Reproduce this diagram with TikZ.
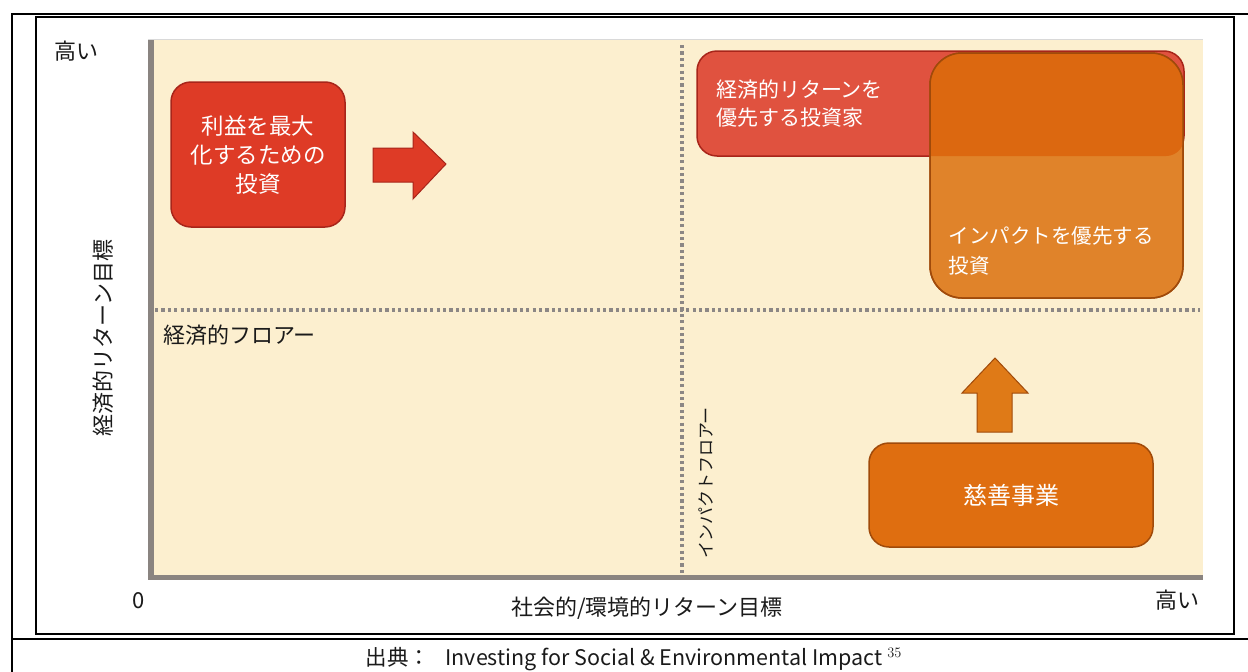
\documentclass[tikz,border=0pt]{standalone}
\usepackage{fontspec}
\setmainfont{Noto Sans CJK JP}
\definecolor{cream}{HTML}{FCEFCF}
\definecolor{axisgray}{HTML}{8A8480}
\definecolor{dotgray}{HTML}{8C8785}
\definecolor{redA}{HTML}{DE3B26}
\definecolor{redB}{HTML}{E0523F}
\definecolor{redEdge}{HTML}{A8251A}
\definecolor{orA}{HTML}{E0832A}
\definecolor{orOver}{HTML}{DC6810}
\definecolor{orC}{HTML}{DF6E10}
\definecolor{orArrow}{HTML}{DF7A17}
\definecolor{orEdge}{HTML}{A04A0A}
\definecolor{txt}{HTML}{1A1A1A}
\begin{document}
\begin{tikzpicture}[x=1pt,y=-1pt,
  frameline/.style={line width=2.2pt,black},
  dotline/.style={line width=3.2pt,dotgray,dash pattern=on 3.2pt off 3.2pt},
  lbl/.style={font=\fontsize{22}{28}\selectfont,text=txt,inner sep=0pt},
  boxtxt/.style={font=\fontsize{22.5}{29}\selectfont,text=white,align=center},
  rbox/.style={draw,line width=1.5pt,rounded corners=20pt,inner sep=0pt}]
\useasboundingbox (0,0) rectangle (1248,672);
% frames
\draw[frameline] (12,672) -- (12,14) -- (1248,14);
\draw[frameline] (12,639) -- (1248,639);
\draw[line width=2pt] (36,17) rectangle (1234,634);
% plot area
\fill[cream] (148,39) rectangle (1203,580);
\draw[line width=0.8pt,black!15] (148,39.4) -- (1203,39.4);
\fill[axisgray] (148,40) rectangle (154,580);
\fill[axisgray] (148,575) rectangle (1203,580);
% dotted floors
\coordinate (hL) at (155,310);
\coordinate (hR) at (1200,310);
\coordinate (vT) at (682,45);
\coordinate (vB) at (682,575);
\draw[dotline] (hL) -- (hR);
\draw[dotline] (vT) -- (vB);
% boxes
\node[rbox,fill=redA,draw=redEdge,minimum width=174pt,minimum height=145pt,boxtxt] (b1) at (258,154.5) {利益を最大\\化するための\\投資};
\node[rbox,fill=redB,draw=redEdge,minimum height=105pt,text width=449pt,inner xsep=19pt,align=left,font=\fontsize{21}{28}\selectfont,text=white] (b2) at (940.5,103.5) {経済的リターンを\\優先する投資家};
\node[rbox,fill=orA,draw=orEdge,rounded corners=32pt,minimum width=253pt,minimum height=245pt] (b3) at (1056.5,175.5) {};
\begin{scope}
  \clip[rounded corners=18pt] (697,51) rectangle (1184,156);
  \fill[orOver,rounded corners=32pt] (930,53) rectangle (1183,298);
\end{scope}
\draw[orEdge,line width=1.5pt,rounded corners=32pt] (930,53) rectangle (1183,298);
\node[boxtxt,anchor=west,align=left,font=\fontsize{20.5}{30}\selectfont] (b3t) at (945,251) {インパクトを優先する\\投資};
\node[rbox,fill=orC,draw=orEdge,minimum width=284pt,minimum height=104pt,boxtxt,font=\fontsize{24}{29}\selectfont] (b4) at (1011,495) {慈善事業};
% block arrows
\fill[redA,draw=redEdge,line width=1pt] (373,148) -- (413,148) -- (413,132) -- (446,164) -- (413,199) -- (413,182) -- (373,182) -- cycle;
\fill[orArrow,draw=orEdge,line width=1pt] (977,432) -- (977,393) -- (962,393) -- (995,358) -- (1028,393) -- (1012,393) -- (1012,432) -- cycle;
% labels
\node[lbl] (hiY) at (76,51) {高い};
\node[lbl,rotate=90] (ylab) at (103,338) {経済的リターン目標};
\node[lbl,anchor=west] (ef) at (163,335) {経済的フロアー};
\node[lbl,rotate=90,font=\fontsize{17}{20}\selectfont] (imf) at (706,483) {インパクトフロアー};
\node[lbl] (zero) at (139,601) {0};
\node[lbl] (xlab) at (647,608) {社会的/環境的リターン目標};
\node[lbl] (hiX) at (1177,600) {高い};
\node[lbl,font=\fontsize{21.5}{28}\selectfont] (cap) at (634,659) {出典：\hspace{0.7em}Investing for Social \& Environmental Impact $^{35}$};
\end{tikzpicture}
\end{document}
